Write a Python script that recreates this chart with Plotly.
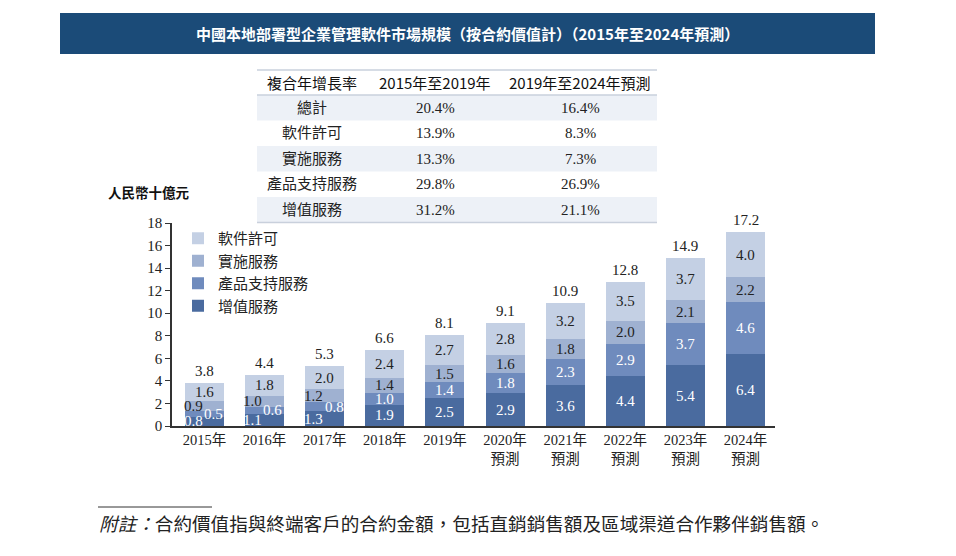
import plotly.graph_objects as go

# ---------------- data ----------------
years = ["2015年", "2016年", "2017年", "2018年", "2019年",
         "2020年<br>預測", "2021年<br>預測", "2022年<br>預測", "2023年<br>預測", "2024年<br>預測"]
value_added = [0.8, 1.1, 1.3, 1.9, 2.5, 2.9, 3.6, 4.4, 5.4, 6.4]      # 增值服務
product_support = [0.5, 0.6, 0.8, 1.0, 1.4, 1.8, 2.3, 2.9, 3.7, 4.6]  # 產品支持服務
implementation = [0.9, 1.0, 1.2, 1.4, 1.5, 1.6, 1.8, 2.0, 2.1, 2.2]   # 實施服務
license_ = [1.6, 1.8, 2.0, 2.4, 2.7, 2.8, 3.2, 3.5, 3.7, 4.0]          # 軟件許可
totals = [3.8, 4.4, 5.3, 6.6, 8.1, 9.1, 10.9, 12.8, 14.9, 17.2]

series_names = ["增值服務", "產品支持服務", "實施服務", "軟件許可"]
series_values = [value_added, product_support, implementation, license_]

cagr_header = ["複合年增長率", "2015年至2019年", "2019年至2024年預測"]
cagr_rows = ["總計", "軟件許可", "實施服務", "產品支持服務", "增值服務"]
cagr_1519 = ["20.4%", "13.9%", "13.3%", "29.8%", "31.2%"]
cagr_1924 = ["16.4%", "8.3%", "7.3%", "26.9%", "21.1%"]

title_text = "中國本地部署型企業管理軟件市場規模（按合約價值計）（2015年至2024年預測）"
unit_text = "人民幣十億元"
note_text = "<i>附註：</i>合約價值指與終端客戶的合約金額，包括直銷銷售額及區域渠道合作夥伴銷售額。"

# ---------------- styling ----------------
colors = ["#4a6b9f", "#6f8bbd", "#9fb1d1", "#c4d0e4"]
label_colors = ["white", "white", "#222222", "#222222"]
SERIF = "Liberation Serif, Times New Roman, Noto Sans CJK TC, serif"
SANS = "Noto Sans CJK TC, Noto Sans, sans-serif"

W, H = 956, 556
PL, PR, PT, PB = 172, 775, 223, 426


def px_x(p):
    return (p - PL) / (PR - PL)


def px_y(p):
    return (PB - p) / (PB - PT)


fig = go.Figure()
xs = list(range(len(years)))
for name, vals, col in zip(series_names, series_values, colors):
    fig.add_trace(go.Bar(x=xs, y=vals, name=name, marker=dict(color=col, line=dict(width=0)),
                         width=0.65, hoverinfo="skip"))

annotations = []
# segment labels
shifts = {0: [-11, 9, -11, 0], 1: [-12, 8, -12, 0], 2: [-11, 10, -11, 0]}
for i in xs:
    base = 0.0
    for s, vals in enumerate(series_values):
        v = vals[i]
        mid = base + v / 2
        base += v
        xsft = shifts.get(i, [0, 0, 0, 0])[s]
        annotations.append(dict(x=i, y=mid, xref="x", yref="y", text=f"{v:.1f}", showarrow=False,
                                xshift=xsft, font=dict(family=SERIF, size=15, color=label_colors[s]),
                                yanchor="middle"))
    annotations.append(dict(x=i, y=base, xref="x", yref="y", text=f"{totals[i]:.1f}", showarrow=False,
                            yanchor="bottom", yshift=2, font=dict(family=SERIF, size=15, color="#222222")))

shapes = []
# title bar
shapes.append(dict(type="rect", xref="paper", yref="paper", x0=px_x(60), x1=px_x(875),
                   y0=px_y(54), y1=px_y(13), fillcolor="#1b4b78", line=dict(width=0), layer="below"))
annotations.append(dict(x=px_x(467), y=px_y(33.5), xref="paper", yref="paper", text="<b>" + title_text + "</b>",
                        showarrow=False, font=dict(family=SANS, size=15, color="white"),
                        xanchor="center", yanchor="middle"))

# CAGR table
TX0, TX1 = 257, 657
bounds = [70, 95, 120.5, 146, 171.5, 197, 222.5]
for r in (0, 2, 4):
    shapes.append(dict(type="rect", xref="paper", yref="paper", x0=px_x(TX0), x1=px_x(TX1),
                       y0=px_y(bounds[r + 2]), y1=px_y(bounds[r + 1]), fillcolor="#edf1f7",
                       line=dict(width=0), layer="below"))
for yb in (70, 95, 222.5):
    shapes.append(dict(type="line", xref="paper", yref="paper", x0=px_x(TX0), x1=px_x(TX1),
                       y0=px_y(yb), y1=px_y(yb), line=dict(color="#c9d0dc", width=1.5)))
col_cx = [312, 435, 580]
for c, txt in enumerate(cagr_header):
    annotations.append(dict(x=px_x(col_cx[c]), y=px_y(82.5), xref="paper", yref="paper", text=txt,
                            showarrow=False, font=dict(family=SANS, size=15, color="#111111"),
                            xanchor="center", yanchor="middle"))
for r in range(len(cagr_rows)):
    yc = px_y((bounds[r + 1] + bounds[r + 2]) / 2)
    for c, txt in enumerate([cagr_rows[r], cagr_1519[r], cagr_1924[r]]):
        annotations.append(dict(x=px_x(col_cx[c]), y=yc, xref="paper", yref="paper", text=txt,
                                showarrow=False, font=dict(family=SERIF, size=15, color="#222222"),
                                xanchor="center", yanchor="middle"))

# unit label
annotations.append(dict(x=px_x(106), y=px_y(192), xref="paper", yref="paper", text="<b>" + unit_text + "</b>",
                        showarrow=False, font=dict(family=SANS, size=13.5, color="#111111"),
                        xanchor="left", yanchor="middle"))

# footnote
shapes.append(dict(type="line", xref="paper", yref="paper", x0=px_x(98), x1=px_x(212),
                   y0=px_y(507), y1=px_y(507), line=dict(color="#333333", width=1)))
annotations.append(dict(x=px_x(97), y=px_y(524), xref="paper", yref="paper", text=note_text,
                        showarrow=False, font=dict(family=SERIF, size=18.6, color="#222222"),
                        xanchor="left", yanchor="middle"))

fig.update_layout(
    width=W, height=H,
    margin=dict(l=PL, r=W - PR, t=PT, b=H - PB, pad=0),
    barmode="stack",
    paper_bgcolor="white", plot_bgcolor="white",
    showlegend=True,
    legend=dict(x=px_x(178), y=px_y(222), xanchor="left", yanchor="top", traceorder="reversed",
                font=dict(family=SERIF, size=15, color="#222222"), bgcolor="rgba(0,0,0,0)",
                itemclick=False, tracegroupgap=0),
    xaxis=dict(tickmode="array", tickvals=xs, ticktext=years, range=[-0.54, 9.49],
               showline=True, linecolor="#333333", linewidth=1.5, ticks="", showgrid=False,
               zeroline=False, tickfont=dict(family=SERIF, size=14.5, color="#222222")),
    yaxis=dict(range=[0, 18], dtick=2, showline=True, linecolor="#333333", linewidth=1.5,
               ticks="outside", ticklen=5, tickcolor="#333333", showgrid=False, zeroline=False,
               tickfont=dict(family=SERIF, size=15, color="#222222")),
    shapes=shapes, annotations=annotations,
)

fig.write_html("out.html", config={"displayModeBar": False},
               post_script="document.body.style.margin='0px';")
